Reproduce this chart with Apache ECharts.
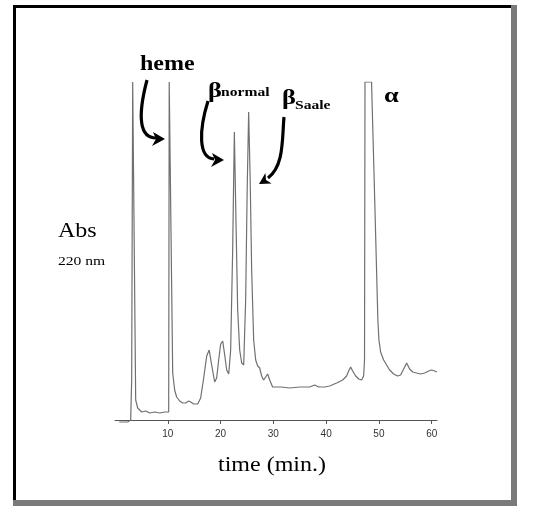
<!DOCTYPE html>
<html>
<head>
<meta charset="utf-8">
<script src="https://cdn.jsdelivr.net/npm/echarts@6/dist/echarts.min.js"></script>
<style>
  html, body { margin: 0; padding: 0; background: #fff; }
  #chart { width: 534px; height: 508px; }
</style>
</head>
<body>
<div id="chart"></div>
<script>
// [time (min), signal]; 338 = off scale (clipped)
const injectionPeak = [[0.8,-2],[2.4,-2],[2.97,0],[3.16,40],[3.26,42],[3.35,338],[3.64,338],[3.92,20],[4.30,12],
  [5.06,8],[5.81,9],[6.57,7],[7.52,8],[8.47,7],[9.41,8],[10.17,8]];
const hemePeak = [[10.27,338],[10.55,338],[10.93,47],[11.30,30],[11.68,23],[12.25,19],[12.82,17],[13.39,17],
  [13.96,19],[14.34,18],[14.91,16],[15.66,16]];
const minorPeaks = [[16.23,22],[16.80,42],[17.37,64],[17.84,70],[18.31,55],[18.88,38],[19.26,42],[19.64,60],
  [20.02,76],[20.40,79],[20.78,65],[21.16,50],[21.54,46]];
const betaPeaks = [[21.91,70],[22.29,170],[22.61,288],[22.95,190],[23.24,110],[23.62,70],[24.00,57],[24.38,55],
  [24.75,120],[25.04,230],[25.32,308],[25.61,240],[25.89,150],[26.27,80],[26.65,60],[27.03,54],[27.41,52],
  [27.78,44],[28.16,40],[28.54,43],[28.92,46],[29.30,40],[29.86,33]];
const plateau = [[30.62,33],[31.57,33],[33.09,32],[34.98,33],[36.88,33],[37.82,35],[38.58,33],[39.72,33],
  [40.66,34],[41.99,37],[43.13,40],[43.88,44],[44.26,49],[44.64,53],[45.02,49],[45.59,44],[46.16,41],
  [46.72,40],[47.10,44]];
const alphaPeak = [[47.27,60],[47.36,338],[48.60,338],[49.10,240],[49.55,150],[49.80,100],[50.00,80],
  [50.32,68],[50.89,60],[51.46,55],[52.03,50],[52.78,46],[53.54,44],[54.11,45],[54.68,51],[55.25,57],
  [55.82,51],[56.39,48],[57.14,47],[57.90,46],[58.66,47],[59.42,49],[59.98,50],[60.55,49],[61.0,48]];

const tickValues = [10, 20, 30, 40, 50, 60];

const trace = [].concat(injectionPeak, hemePeak, minorPeaks, betaPeaks, plateau, alphaPeak);

const serif = '"Liberation Serif", "DejaVu Serif", serif';

function label(x, y, text, size, bold, align) {
  return {
    type: 'text', x: x, y: y, scaleX: 1.2,
    style: {
      text: text, fill: '#000', align: align || 'left', verticalAlign: 'middle',
      font: (bold ? 'bold ' : '') + size + 'px ' + serif
    }
  };
}

function arrow(p, head) {
  return [
    {
      type: 'bezierCurve',
      shape: { x1: p[0], y1: p[1], cpx1: p[2], cpy1: p[3], cpx2: p[4], cpy2: p[5], x2: p[6], y2: p[7] },
      style: { stroke: '#000', lineWidth: 3.2, fill: null }
    },
    { type: 'polygon', shape: { points: head }, style: { fill: '#000' } }
  ];
}

const chart = echarts.init(document.getElementById('chart'));

chart.setOption({
  backgroundColor: '#fff',
  animation: false,
  grid: { left: 115, right: 97, top: 82, bottom: 84 },
  xAxis: {
    type: 'value', min: 0, max: 61,
    axisLine: { onZero: true, lineStyle: { color: '#555', width: 1 } },
    axisTick: { customValues: tickValues, length: 4, lineStyle: { color: '#555' } },
    axisLabel: { customValues: tickValues, color: '#333', fontSize: 10, margin: 5, fontFamily: 'Arial, sans-serif' },
    splitLine: { show: false }
  },
  yAxis: { type: 'value', min: -4, max: 338, show: false, splitLine: { show: false } },
  series: [{
    type: 'line', data: trace, symbol: 'none', smooth: false,
    lineStyle: { color: '#707070', width: 1.2 }
  }],
  graphic: [
    // frame: black top/left, grey right/bottom
    { type: 'rect', shape: { x: 13, y: 5, width: 504, height: 3 }, style: { fill: '#000' } },
    { type: 'rect', shape: { x: 13, y: 5, width: 3, height: 501 }, style: { fill: '#000' } },
    { type: 'rect', shape: { x: 511, y: 5, width: 6, height: 501 }, style: { fill: '#7a7a7a' } },
    { type: 'rect', shape: { x: 13, y: 500, width: 504, height: 6 }, style: { fill: '#7a7a7a' } },

    label(140, 65, 'heme', 20, true),
    label(208, 91, 'β', 22, true),
    label(221, 93, 'normal', 13, true),
    label(282, 98, 'β', 22, true),
    label(295, 106, 'Saale', 13, true),
    label(384, 96, 'α', 22, true),
    label(58, 232, 'Abs', 20, false),
    label(58, 262, '220 nm', 13, false),
    label(272, 466, 'time (min.)', 20, false, 'center'),

    ...arrow([147, 80, 137, 118, 140, 138, 156, 138], [[165,139],[153,132],[156,139],[152,146]]),
    ...arrow([208, 101, 199, 130, 198, 158, 214, 159], [[224,160],[212,153],[215,160],[211,167]]),
    ...arrow([284, 117, 282, 140, 284, 166, 268, 178], [[259,184],[265.4,173],[266,180],[271.6,183.6]])
  ]
});
</script>
</body>
</html>
